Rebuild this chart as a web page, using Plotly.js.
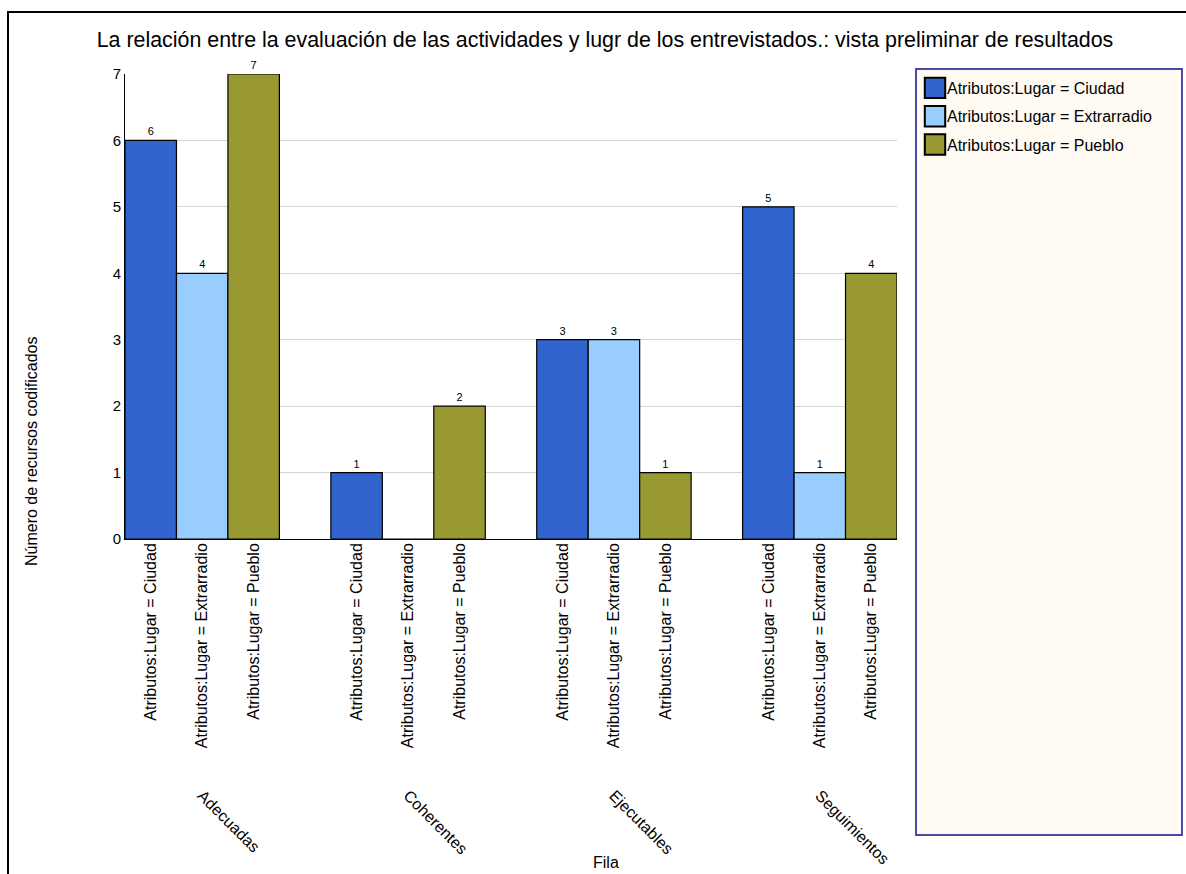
<!DOCTYPE html>
<html>
<head>
<meta charset="utf-8">
<script src="https://cdn.plot.ly/plotly-3.0.1.min.js"></script>
<style>
  html, body { margin: 0; padding: 0; background: #fff; }
  #chart { width: 1186px; height: 874px; }
</style>
</head>
<body>
<div id="chart"></div>
<script>
// Categories (rows) and the three place attributes (columns)
const categories = ['Adecuadas', 'Coherentes', 'Ejecutables', 'Seguimientos'];
const seriesNames = ['Atributos:Lugar = Ciudad', 'Atributos:Lugar = Extrarradio', 'Atributos:Lugar = Pueblo'];

// Number of coded resources per category
const ciudad = [6, 1, 3, 5];
const extrarradio = [4, 0, 3, 1];
const pueblo = [7, 2, 1, 4];

const seriesValues = [ciudad, extrarradio, pueblo];
const seriesColors = ['#3164CC', '#99CCFF', '#999933'];

// Page geometry
const W = 1186, H = 874;
const M = { l: 125, r: 289, t: 74, b: 335 };
const PW = W - M.l - M.r, PH = H - M.t - M.b;
const px = x => (x - M.l) / PW;
const py = y => 1 - (y - M.t) / PH;

const BARGAP = 0.25;
const xRange = [-0.5 + BARGAP / 2, categories.length - 0.5 - BARGAP / 2];
const fontMain = 'Liberation Sans, Arial, sans-serif';

const traces = seriesValues.map((vals, j) => ({
  type: 'bar',
  name: seriesNames[j],
  x: categories,
  y: vals,
  text: vals.map(v => (v > 0 ? String(v) : '')),
  textposition: 'outside',
  cliponaxis: false,
  textfont: { family: fontMain, size: 11, color: '#000' },
  marker: { color: seriesColors[j], line: { color: '#000', width: 1.2 } },
  legendgroup: 'g' + j,
  hoverinfo: 'y+name'
}));

// Per-bar labels on a secondary axis aligned with the grouped bars
const n = seriesNames.length;
const slot = (1 - BARGAP) / n;
const barTickVals = [], barTickText = [];
categories.forEach((c, i) => {
  seriesNames.forEach((s, j) => {
    barTickVals.push(i + (j - (n - 1) / 2) * slot);
    barTickText.push(s);
  });
});
traces.push({
  type: 'scatter',
  mode: 'none',
  x: barTickVals,
  y: barTickVals.map(() => 0),
  xaxis: 'x2',
  yaxis: 'y',
  showlegend: false,
  hoverinfo: 'skip'
});

const layout = {
  width: W,
  height: H,
  margin: M,
  paper_bgcolor: '#fff',
  plot_bgcolor: 'rgba(0,0,0,0)',
  barmode: 'group',
  bargap: BARGAP,
  bargroupgap: 0,
  font: { family: fontMain, color: '#000' },
  title: {
    text: 'La relación entre la evaluación de las actividades y lugr de los entrevistados.: vista preliminar de resultados',
    font: { family: fontMain, size: 21.4, color: '#000' },
    xref: 'container', yref: 'container',
    x: 605 / W, y: 1 - 40 / H,
    xanchor: 'center', yanchor: 'middle'
  },
  xaxis: {
    type: 'category',
    range: xRange,
    showline: true, linecolor: '#000', linewidth: 1,
    showgrid: false, zeroline: false,
    ticks: '',
    tickangle: 45,
    ticklabelstandoff: 240,
    tickfont: { family: fontMain, size: 16, color: '#000' }
  },
  xaxis2: {
    overlaying: 'x',
    anchor: 'y',
    side: 'bottom',
    range: xRange,
    tickmode: 'array',
    tickvals: barTickVals,
    ticktext: barTickText,
    tickangle: -90,
    ticks: '',
    showgrid: false, zeroline: false, showline: false,
    tickfont: { family: fontMain, size: 16, color: '#000' }
  },
  yaxis: {
    range: [0, 7],
    dtick: 1,
    showline: true, linecolor: '#000', linewidth: 1,
    gridcolor: '#d6d6d6', gridwidth: 1,
    zeroline: false,
    ticks: '',
    tickfont: { family: fontMain, size: 15, color: '#000' }
  },
  showlegend: true,
  legend: {
    x: px(907), y: py(71),
    xanchor: 'left', yanchor: 'top',
    bgcolor: 'rgba(0,0,0,0)',
    borderwidth: 0,
    tracegroupgap: 4.5,
    traceorder: 'grouped',
    font: { family: fontMain, size: 16, color: '#000' }
  },
  shapes: [
    // outer frame
    { type: 'rect', xref: 'paper', yref: 'paper', layer: 'below',
      x0: px(8), x1: px(1200), y0: py(12), y1: py(900),
      line: { color: '#000', width: 2 }, fillcolor: 'rgba(0,0,0,0)' },
    // legend panel
    { type: 'rect', xref: 'paper', yref: 'paper', layer: 'below',
      x0: px(916), x1: px(1182), y0: py(69), y1: py(835),
      line: { color: '#4B4BA5', width: 2 }, fillcolor: '#FFFAF2' }
  ],
  annotations: [
    { text: 'Número de recursos codificados', xref: 'paper', yref: 'paper',
      x: px(31), y: py(452), textangle: -90, showarrow: false,
      xanchor: 'center', yanchor: 'middle',
      font: { family: fontMain, size: 16, color: '#000' } },
    { text: 'Fila', xref: 'paper', yref: 'paper',
      x: px(606), y: py(862), showarrow: false,
      xanchor: 'center', yanchor: 'middle',
      font: { family: fontMain, size: 16, color: '#000' } }
  ]
};

// Larger square swatches in the legend, sitting right next to their labels
function enlargeSwatches(gd) {
  gd.querySelectorAll('.legend .legendpoints path').forEach(p => {
    p.setAttribute('transform', 'translate(28,0) scale(1.7)');
  });
}

const gd = document.getElementById('chart');
Plotly.newPlot(gd, traces, layout, { displayModeBar: false }).then(() => {
  enlargeSwatches(gd);
  gd.on('plotly_afterplot', () => enlargeSwatches(gd));
});
</script>
</body>
</html>
